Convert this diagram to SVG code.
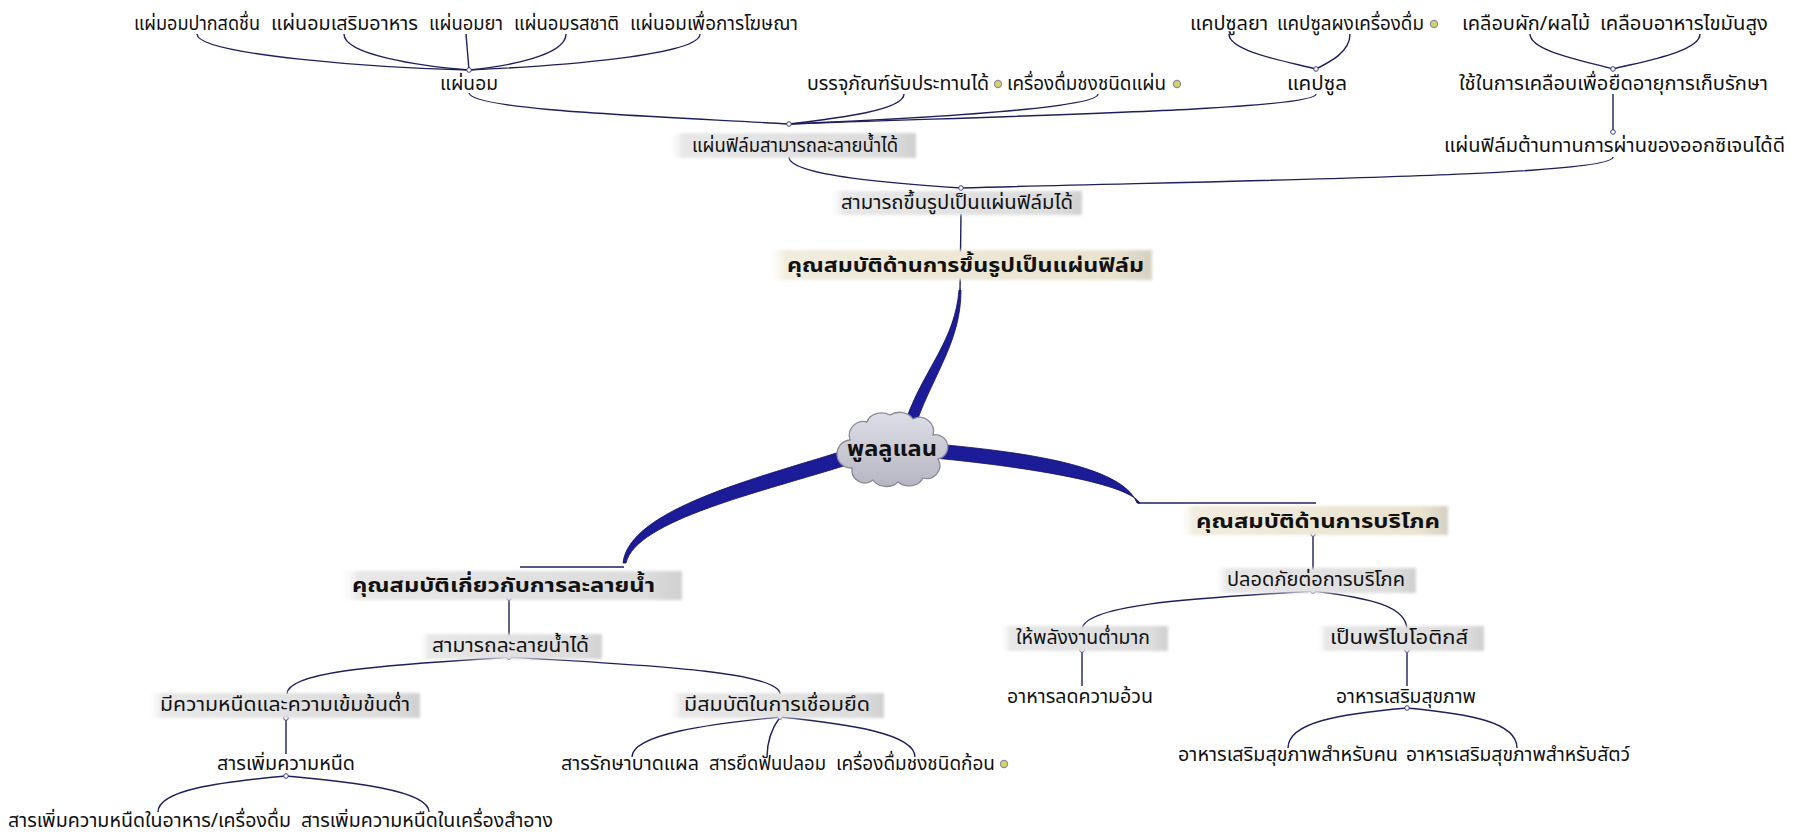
<svg xmlns="http://www.w3.org/2000/svg" width="1794" height="835" viewBox="0 0 1794 835">
  <defs>
    <linearGradient id="bgGray" x1="0" y1="0" x2="1" y2="0">
      <stop offset="0" stop-color="#ffffff" stop-opacity="0"/>
      <stop offset="0.06" stop-color="#e7e7e7"/>
      <stop offset="0.9" stop-color="#dcdcdc"/>
      <stop offset="1" stop-color="#cfcfcf"/>
    </linearGradient>
    <linearGradient id="bgBeige" x1="0" y1="0" x2="1" y2="0">
      <stop offset="0" stop-color="#ffffff" stop-opacity="0"/>
      <stop offset="0.05" stop-color="#f1ecdd"/>
      <stop offset="0.9" stop-color="#e8e2ce"/>
      <stop offset="1" stop-color="#d4d0c2"/>
    </linearGradient>
    <linearGradient id="cloudFill" x1="0" y1="0" x2="0" y2="1">
      <stop offset="0" stop-color="#dedee8"/>
      <stop offset="1" stop-color="#b6b6c2"/>
    </linearGradient>
    <filter id="soft" x="-5%" y="-40%" width="110%" height="180%">
      <feGaussianBlur stdDeviation="1.6"/>
    </filter>
    <style>
      text { font-family: "Noto Sans Thai", Tahoma, "Noto Sans", "DejaVu Sans", sans-serif; fill: #111; }
      .t { font-size: 19px; }
      .b { font-size: 20px; font-weight: bold; }
      .c { font-size: 21px; font-weight: bold; }
      .ln { fill: none; stroke: #1f1f5e; stroke-width: 1.4; }
      .thick { fill: #1c1c98; stroke: #10105a; stroke-width: 0.8; }
      .dot { fill: #ffffff; stroke: #3a3a80; stroke-width: 1; }
      .bg { fill: url(#bgGray); filter: url(#soft); }
      .bgb { fill: url(#bgBeige); filter: url(#soft); }
      .ico { fill: #d4d45e; stroke: #8a8ab2; stroke-width: 1.2; }
    </style>
  </defs>

  <rect width="1794" height="835" fill="#ffffff"/>

  <!-- connectors -->
  <g id="connectors">
    <!-- tapered main branches from the central topic -->
    <path class="thick" d="M 907,417 C 925,368 955,340 959,290 L 961,290 C 961,340 935,372 917,421 Z"/>
    <path class="thick" d="M 846,450 C 758,478 629,509 623,563 L 626,563 C 636,520 762,492 850,464 Z"/>
    <path class="thick" d="M 936,444 C 1022,452 1122,465 1137,503 L 1140,503 C 1126,482 1018,466 934,458 Z"/>
    <path class="ln" d="M 961,214 L 960,291"/>
    <path class="ln" d="M 624,567 L 520,567"/>
    <path class="ln" d="M 1138,503 L 1316,503"/>

    <!-- film forming branch -->
    <path class="ln" d="M 197,34 C 197,55 380,68 469,70"/>
    <path class="ln" d="M 344,34 C 344,55 420,66 469,70"/>
    <path class="ln" d="M 466,34 L 469,70"/>
    <path class="ln" d="M 566,34 C 566,55 510,66 469,70"/>
    <path class="ln" d="M 700,34 C 700,55 560,66 469,70"/>
    <path class="ln" d="M 469,93 C 472,110 650,116 789,124"/>
    <path class="ln" d="M 904,94 C 904,110 840,118 789,124"/>
    <path class="ln" d="M 1098,94 C 1098,108 930,118 789,124"/>
    <path class="ln" d="M 1316,94 C 1316,110 1000,116 789,124"/>
    <path class="ln" d="M 1229,34 C 1229,52 1290,62 1316,69"/>
    <path class="ln" d="M 1350,34 C 1350,52 1330,62 1316,69"/>
    <path class="ln" d="M 1530,34 C 1530,52 1590,62 1613,69"/>
    <path class="ln" d="M 1700,34 C 1700,52 1640,62 1613,69"/>
    <path class="ln" d="M 1613,94 L 1613,132"/>
    <path class="ln" d="M 789,157 C 789,176 900,184 961,188"/>
    <path class="ln" d="M 1613,157 C 1613,176 1250,180 961,188"/>

    <!-- water solubility branch -->
    <path class="ln" d="M 509,598 L 509,636"/>
    <path class="ln" d="M 509,657 C 420,664 287,668 287,694"/>
    <path class="ln" d="M 509,657 C 620,664 780,670 780,694"/>
    <path class="ln" d="M 286,718 L 286,754"/>
    <path class="ln" d="M 286,776 C 220,782 158,790 158,812"/>
    <path class="ln" d="M 286,776 C 350,782 429,790 429,812"/>
    <path class="ln" d="M 780,717 C 710,724 632,734 632,757"/>
    <path class="ln" d="M 780,717 C 772,728 767,740 767,757"/>
    <path class="ln" d="M 780,717 C 850,724 915,734 915,757"/>

    <!-- consumption branch -->
    <path class="ln" d="M 1313,534 L 1313,570"/>
    <path class="ln" d="M 1313,591 C 1200,598 1082,604 1082,630"/>
    <path class="ln" d="M 1313,591 C 1370,598 1407,606 1407,630"/>
    <path class="ln" d="M 1082,650 L 1082,686"/>
    <path class="ln" d="M 1407,650 L 1407,686"/>
    <path class="ln" d="M 1407,708 C 1340,714 1288,722 1288,748"/>
    <path class="ln" d="M 1407,708 C 1470,714 1517,722 1517,748"/>

    <!-- junction markers -->
    <circle class="dot" cx="469" cy="70" r="2.3"/>
    <circle class="dot" cx="789" cy="124" r="2.3"/>
    <circle class="dot" cx="1316" cy="69" r="2.3"/>
    <circle class="dot" cx="1613" cy="69" r="2.3"/>
    <circle class="dot" cx="1613" cy="132" r="2.3"/>
    <circle class="dot" cx="961" cy="188" r="2.3"/>
    <circle class="dot" cx="509" cy="598" r="2.3"/>
    <circle class="dot" cx="509" cy="657" r="2.3"/>
    <circle class="dot" cx="286" cy="718" r="2.3"/>
    <circle class="dot" cx="286" cy="776" r="2.3"/>
    <circle class="dot" cx="780" cy="717" r="2.3"/>
    <circle class="dot" cx="1313" cy="534" r="2.3"/>
    <circle class="dot" cx="1313" cy="591" r="2.3"/>
    <circle class="dot" cx="1082" cy="650" r="2.3"/>
    <circle class="dot" cx="1407" cy="650" r="2.3"/>
    <circle class="dot" cx="1407" cy="708" r="2.3"/>
  </g>

  <!-- central topic -->
  <g id="central-pullulan">
    <path d="M 850,440 a 14,14 0 0 1 17,-18 a 15,12 0 0 1 23,-7 a 15,12 0 0 1 23,4 a 14,14 0 0 1 20,16 a 12,12 0 0 1 5,24 a 13,13 0 0 1 -15,19 a 15,12 0 0 1 -25,4 a 15,12 0 0 1 -25,-2 a 13,13 0 0 1 -21,-12 a 12,12 0 0 1 -2,-28 Z" fill="url(#cloudFill)" stroke="#8a8a98" stroke-width="1.3"/>
    <text class="c" x="847" y="456" textLength="90" lengthAdjust="spacingAndGlyphs">พูลลูแลน</text>
  </g>

  <!-- main topics -->
  <g id="topic-film">
    <rect class="bgb" x="766" y="250" width="386" height="30"/>
    <text class="b" x="787" y="272" textLength="357" lengthAdjust="spacingAndGlyphs">คุณสมบัติด้านการขึ้นรูปเป็นแผ่นฟิล์ม</text>
  </g>
  <g id="topic-consume">
    <rect class="bgb" x="1180" y="506" width="268" height="29"/>
    <text class="b" x="1196" y="528" textLength="244" lengthAdjust="spacingAndGlyphs">คุณสมบัติด้านการบริโภค</text>
  </g>
  <g id="topic-soluble">
    <rect class="bg" x="338" y="571" width="344" height="29"/>
    <text class="b" x="352" y="592" textLength="303" lengthAdjust="spacingAndGlyphs">คุณสมบัติเกี่ยวกับการละลายน้ำ</text>
  </g>

  <!-- film forming subtopics -->
  <g id="film-shape">
    <rect class="bg" x="828" y="191" width="254" height="24"/>
    <text class="t" x="841" y="209" textLength="232" lengthAdjust="spacingAndGlyphs">สามารถขึ้นรูปเป็นแผ่นฟิล์มได้</text>
  </g>
  <g id="film-soluble">
    <rect class="bg" x="668" y="133" width="248" height="25"/>
    <text class="t" x="692" y="152" textLength="206" lengthAdjust="spacingAndGlyphs">แผ่นฟิล์มสามารถละลายน้ำได้</text>
  </g>
  <g id="film-oxygen">
    <text class="t" x="1444" y="152" textLength="341" lengthAdjust="spacingAndGlyphs">แผ่นฟิล์มต้านทานการผ่านของออกซิเจนได้ดี</text>
  </g>
  <g id="lozenge">
    <text class="t" x="440" y="90" textLength="58" lengthAdjust="spacingAndGlyphs">แผ่นอม</text>
  </g>
  <g id="edible-pack">
    <text class="t" x="807" y="90" textLength="182" lengthAdjust="spacingAndGlyphs">บรรจุภัณฑ์รับประทานได้</text>
    <circle class="ico" cx="998" cy="84" r="3.6"/>
  </g>
  <g id="drink-sheet">
    <text class="t" x="1007" y="90" textLength="159" lengthAdjust="spacingAndGlyphs">เครื่องดื่มชงชนิดแผ่น</text>
    <circle class="ico" cx="1177" cy="84" r="3.6"/>
  </g>
  <g id="capsule">
    <text class="t" x="1287" y="90" textLength="60" lengthAdjust="spacingAndGlyphs">แคปซูล</text>
  </g>
  <g id="coating">
    <text class="t" x="1459" y="90" textLength="309" lengthAdjust="spacingAndGlyphs">ใช้ในการเคลือบเพื่อยืดอายุการเก็บรักษา</text>
  </g>

  <!-- lozenge types -->
  <g id="lozenge-fresh"><text class="t" x="134" y="30" textLength="126" lengthAdjust="spacingAndGlyphs">แผ่มอมปากสดชื่น</text></g>
  <g id="lozenge-supplement"><text class="t" x="271" y="30" textLength="147" lengthAdjust="spacingAndGlyphs">แผ่นอมเสริมอาหาร</text></g>
  <g id="lozenge-drug"><text class="t" x="429" y="30" textLength="74" lengthAdjust="spacingAndGlyphs">แผ่นอมยา</text></g>
  <g id="lozenge-flavour"><text class="t" x="514" y="30" textLength="105" lengthAdjust="spacingAndGlyphs">แผ่นอมรสชาติ</text></g>
  <g id="lozenge-ads"><text class="t" x="630" y="30" textLength="168" lengthAdjust="spacingAndGlyphs">แผ่นอมเพื่อการโฆษณา</text></g>

  <!-- capsule types -->
  <g id="capsule-drug"><text class="t" x="1190" y="30" textLength="78" lengthAdjust="spacingAndGlyphs">แคปซูลยา</text></g>
  <g id="capsule-drink">
    <text class="t" x="1277" y="30" textLength="147" lengthAdjust="spacingAndGlyphs">แคปซูลผงเครื่องดื่ม</text>
    <circle class="ico" cx="1434" cy="24" r="3.6"/>
  </g>

  <!-- coating uses -->
  <g id="coat-fruit"><text class="t" x="1462" y="30" textLength="128" lengthAdjust="spacingAndGlyphs">เคลือบผัก/ผลไม้</text></g>
  <g id="coat-fat"><text class="t" x="1600" y="30" textLength="168" lengthAdjust="spacingAndGlyphs">เคลือบอาหารไขมันสูง</text></g>

  <!-- water solubility subtopics -->
  <g id="soluble">
    <rect class="bg" x="418" y="634" width="184" height="25"/>
    <text class="t" x="432" y="652" textLength="157" lengthAdjust="spacingAndGlyphs">สามารถละลายน้ำได้</text>
  </g>
  <g id="low-viscosity">
    <rect class="bg" x="146" y="693" width="274" height="25"/>
    <text class="t" x="160" y="711" textLength="250" lengthAdjust="spacingAndGlyphs">มีความหนืดและความเข้มข้นต่ำ</text>
  </g>
  <g id="binding">
    <rect class="bg" x="668" y="693" width="216" height="25"/>
    <text class="t" x="684" y="711" textLength="186" lengthAdjust="spacingAndGlyphs">มีสมบัติในการเชื่อมยึด</text>
  </g>
  <g id="thickener"><text class="t" x="217" y="770" textLength="138" lengthAdjust="spacingAndGlyphs">สารเพิ่มความหนืด</text></g>
  <g id="wound"><text class="t" x="561" y="770" textLength="138" lengthAdjust="spacingAndGlyphs">สารรักษาบาดแผล</text></g>
  <g id="denture"><text class="t" x="709" y="770" textLength="117" lengthAdjust="spacingAndGlyphs">สารยึดฟันปลอม</text></g>
  <g id="drink-cube">
    <text class="t" x="836" y="770" textLength="159" lengthAdjust="spacingAndGlyphs">เครื่องดื่มชงชนิดก้อน</text>
    <circle class="ico" cx="1004" cy="764" r="3.6"/>
  </g>
  <g id="thickener-food"><text class="t" x="8" y="827" textLength="283" lengthAdjust="spacingAndGlyphs">สารเพิ่มความหนืดในอาหาร/เครื่องดื่ม</text></g>
  <g id="thickener-cosmetic"><text class="t" x="301" y="827" textLength="252" lengthAdjust="spacingAndGlyphs">สารเพิ่มความหนืดในเครื่องสำอาง</text></g>

  <!-- consumption subtopics -->
  <g id="safe">
    <rect class="bg" x="1214" y="568" width="202" height="25"/>
    <text class="t" x="1227" y="586" textLength="178" lengthAdjust="spacingAndGlyphs">ปลอดภัยต่อการบริโภค</text>
  </g>
  <g id="low-energy">
    <rect class="bg" x="1000" y="626" width="168" height="25"/>
    <text class="t" x="1016" y="644" textLength="134" lengthAdjust="spacingAndGlyphs">ให้พลังงานต่ำมาก</text>
  </g>
  <g id="prebiotic">
    <rect class="bg" x="1316" y="626" width="168" height="25"/>
    <text class="t" x="1330" y="644" textLength="138" lengthAdjust="spacingAndGlyphs">เป็นพรีไบโอติกส์</text>
  </g>
  <g id="diet-food"><text class="t" x="1007" y="703" textLength="146" lengthAdjust="spacingAndGlyphs">อาหารลดความอ้วน</text></g>
  <g id="health-food"><text class="t" x="1336" y="703" textLength="140" lengthAdjust="spacingAndGlyphs">อาหารเสริมสุขภาพ</text></g>
  <g id="health-human"><text class="t" x="1178" y="761" textLength="220" lengthAdjust="spacingAndGlyphs">อาหารเสริมสุขภาพสำหรับคน</text></g>
  <g id="health-animal"><text class="t" x="1406" y="761" textLength="224" lengthAdjust="spacingAndGlyphs">อาหารเสริมสุขภาพสำหรับสัตว์</text></g>
</svg>
